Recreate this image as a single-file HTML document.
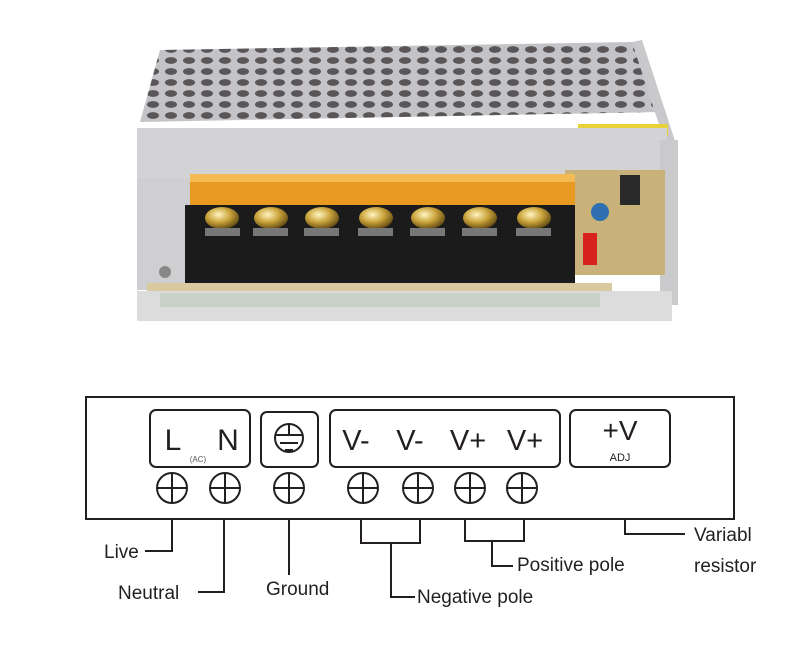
<!DOCTYPE html>
<html><head><meta charset="utf-8"><style>
body{margin:0;background:#fff;width:800px;height:648px;overflow:hidden}
</style></head><body>
<svg width="800" height="648" viewBox="0 0 800 648" xmlns="http://www.w3.org/2000/svg" font-family="Liberation Sans, DejaVu Sans, sans-serif">
<defs>
<pattern id="holes" width="18" height="11" patternUnits="userSpaceOnUse">
<rect width="18" height="11" fill="#c4c4c8"/>
<ellipse cx="9" cy="5.5" rx="6" ry="3.4" fill="#5a5658"/>
</pattern>
<radialGradient id="gold" cx="0.4" cy="0.35" r="0.7">
<stop offset="0" stop-color="#fff6c0"/><stop offset="0.5" stop-color="#c9a23a"/><stop offset="1" stop-color="#5a4210"/>
</radialGradient>
</defs>
<!-- photo -->
<polygon points="160,50 632,42 660,112 140,122" fill="url(#holes)"/>
<polygon points="632,42 642,40 678,150 668,152" fill="#c9c9cc"/>
<rect x="578" y="124" width="90" height="12" fill="#e8d23a"/>
<rect x="137" y="128" width="530" height="50" fill="#d3d3d6"/>
<rect x="137" y="178" width="55" height="112" fill="#cfcfd2"/>
<rect x="660" y="140" width="18" height="165" fill="#cacacd"/>
<rect x="565" y="170" width="100" height="105" fill="#c8b27a"/>
<rect x="620" y="175" width="20" height="30" fill="#2a2a2a"/>
<circle cx="600" cy="212" r="9" fill="#2f6fb0"/>
<rect x="583" y="233" width="14" height="32" fill="#d8231d"/>
<rect x="190" y="174" width="385" height="34" fill="#e79a1f"/>
<rect x="190" y="174" width="385" height="8" fill="#f4bb55"/>
<rect x="185" y="205" width="390" height="80" fill="#1b1b1b"/>
<g fill="url(#gold)">
<ellipse cx="222" cy="218" rx="17" ry="11"/><ellipse cx="271" cy="218" rx="17" ry="11"/>
<ellipse cx="322" cy="218" rx="17" ry="11"/><ellipse cx="376" cy="218" rx="17" ry="11"/>
<ellipse cx="428" cy="218" rx="17" ry="11"/><ellipse cx="480" cy="218" rx="17" ry="11"/>
<ellipse cx="534" cy="218" rx="17" ry="11"/>
</g>
<g fill="#777"><rect x="205" y="228" width="35" height="8"/><rect x="253" y="228" width="35" height="8"/><rect x="304" y="228" width="35" height="8"/><rect x="358" y="228" width="35" height="8"/><rect x="410" y="228" width="35" height="8"/><rect x="462" y="228" width="35" height="8"/><rect x="516" y="228" width="35" height="8"/></g>
<rect x="147" y="283" width="465" height="8" fill="#d9c9a0"/>
<rect x="137" y="291" width="535" height="30" fill="#dcdcdc"/>
<rect x="160" y="293" width="440" height="14" fill="#c9d2c9"/>
<circle cx="165" cy="272" r="6" fill="#888"/>
<!-- diagram -->
<g fill="none" stroke="#231f20" stroke-width="2">
<rect x="86" y="397" width="648" height="122"/>
<rect x="150" y="410" width="100" height="57" rx="6"/>
<rect x="261" y="412" width="57" height="55" rx="6"/>
<rect x="330" y="410" width="230" height="57" rx="6"/>
<rect x="570" y="410" width="100" height="57" rx="6"/>
<circle cx="289" cy="438" r="14"/>
<line x1="275" y1="435" x2="303" y2="435"/><line x1="280" y1="443" x2="298" y2="443"/><line x1="285" y1="450" x2="293" y2="450"/>
<line x1="289" y1="424" x2="289" y2="435"/>
<polyline points="172,519 172,551 145,551"/>
<polyline points="224,519 224,592 198,592"/>
<line x1="289" y1="519" x2="289" y2="575"/>
<polyline points="361,519 361,543 420,543 420,519"/>
<polyline points="391,543 391,597 415,597"/>
<polyline points="465,519 465,541 524,541 524,519"/>
<polyline points="492,541 492,566 513,566"/>
<polyline points="625,519 625,534 685,534"/>
</g>
<g fill="none" stroke="#231f20" stroke-width="2">
<circle cx="172" cy="488" r="15"/><line x1="157" y1="488" x2="187" y2="488"/><line x1="172" y1="473" x2="172" y2="503"/>
<circle cx="225" cy="488" r="15"/><line x1="210" y1="488" x2="240" y2="488"/><line x1="225" y1="473" x2="225" y2="503"/>
<circle cx="289" cy="488" r="15"/><line x1="274" y1="488" x2="304" y2="488"/><line x1="289" y1="473" x2="289" y2="503"/>
<circle cx="363" cy="488" r="15"/><line x1="348" y1="488" x2="378" y2="488"/><line x1="363" y1="473" x2="363" y2="503"/>
<circle cx="418" cy="488" r="15"/><line x1="403" y1="488" x2="433" y2="488"/><line x1="418" y1="473" x2="418" y2="503"/>
<circle cx="470" cy="488" r="15"/><line x1="455" y1="488" x2="485" y2="488"/><line x1="470" y1="473" x2="470" y2="503"/>
<circle cx="522" cy="488" r="15"/><line x1="507" y1="488" x2="537" y2="488"/><line x1="522" y1="473" x2="522" y2="503"/>
</g>
<g fill="#231f20">
<text x="173" y="450" font-size="30" text-anchor="middle">L</text>
<text x="228" y="450" font-size="30" text-anchor="middle">N</text>
<text x="198" y="462" font-size="8" text-anchor="middle" fill="#555">(AC)</text>
<g font-size="29" text-anchor="middle">
<text x="356" y="450">V-</text><text x="410" y="450">V-</text>
<text x="468" y="450">V+</text><text x="525" y="450">V+</text>
</g>
<text x="620" y="440" font-size="28" text-anchor="middle">+V</text>
<text x="620" y="461" font-size="11" text-anchor="middle">ADJ</text>
<g font-size="19">
<text x="104" y="558">Live</text>
<text x="118" y="599">Neutral</text>
<text x="266" y="595">Ground</text>
<text x="417" y="603">Negative pole</text>
<text x="517" y="571">Positive pole</text>
<text x="694" y="541">Variabl</text>
<text x="694" y="572">resistor</text>
</g>
</g>
</svg>
</body></html>
